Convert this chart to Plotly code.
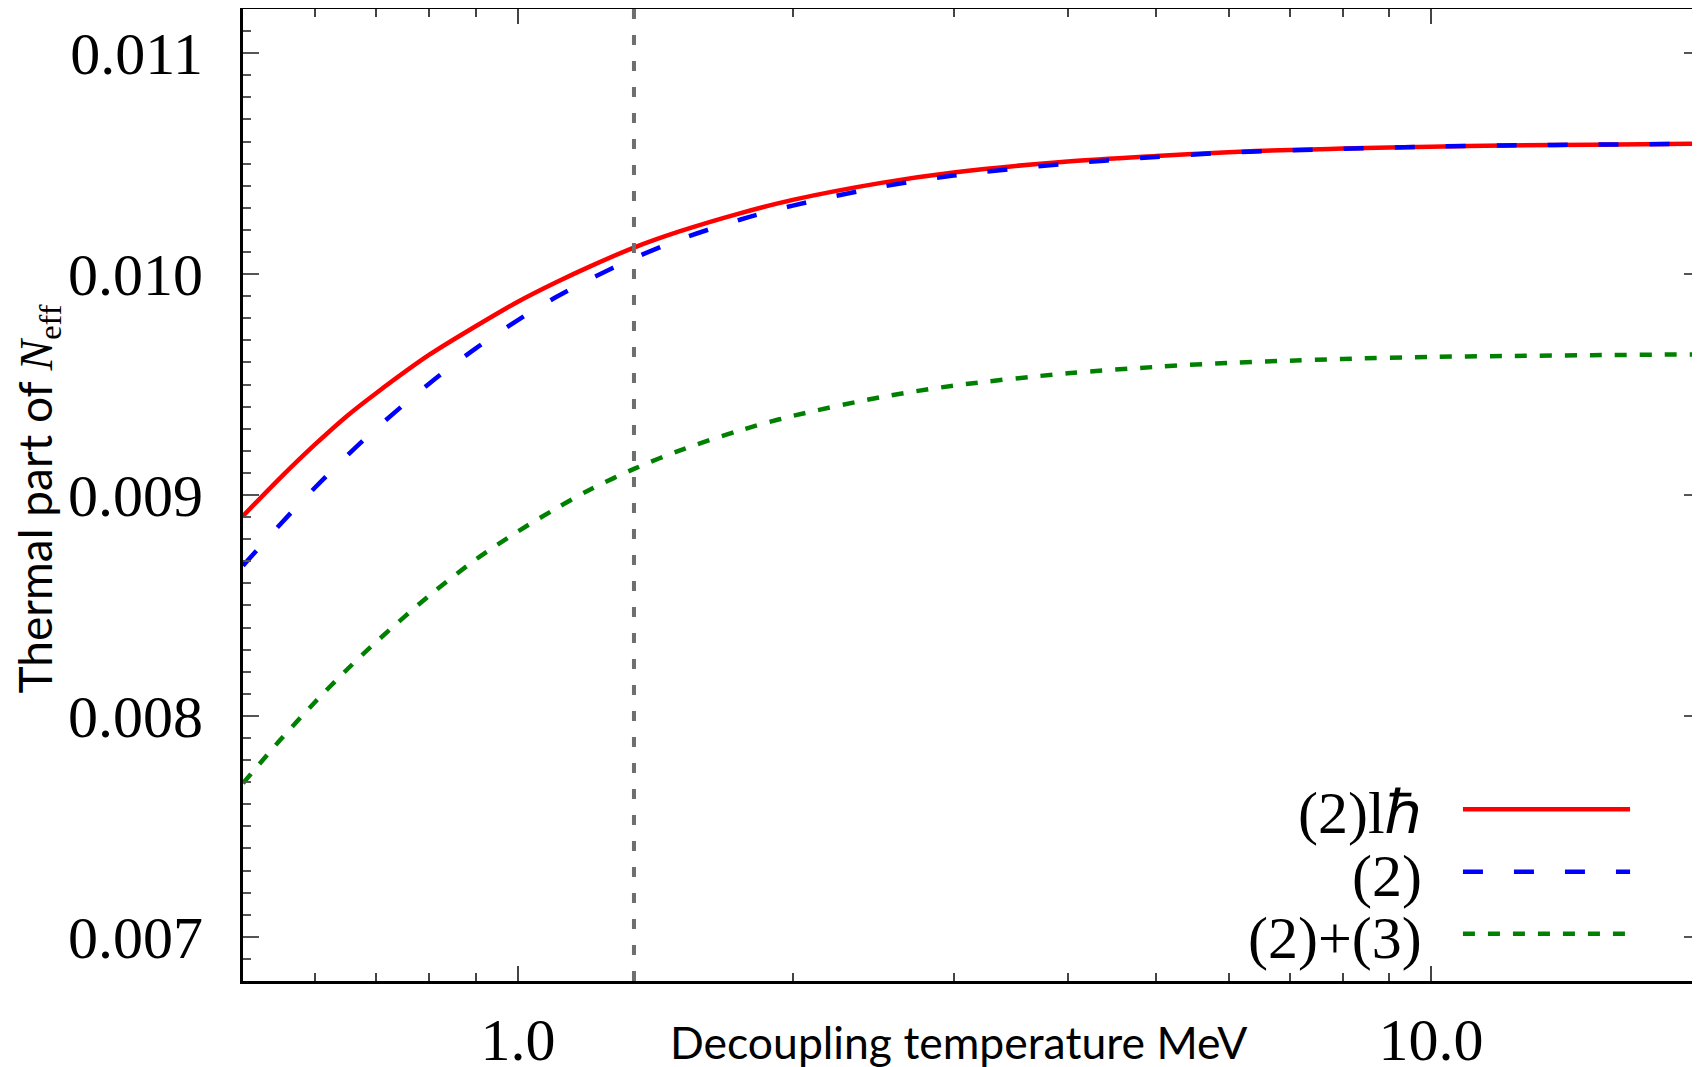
import numpy as np
import plotly.graph_objects as go

# ---- data ----
T_dec = [0.5, 0.55, 0.6, 0.65, 0.7, 0.8, 0.9, 1.0, 1.1, 1.2, 1.34, 1.5, 1.75,
         2.0, 2.5, 3.0, 4.0, 5.0, 6.0, 7.0, 8.0, 10.0, 12.0, 15.0, 20.0]
neff_2lh = [0.008905, 0.009080, 0.009230, 0.009358, 0.009462, 0.009635, 0.009765,
            0.009875, 0.009962, 0.010035, 0.010120, 0.010192, 0.010275, 0.010336,
            0.010413, 0.010460, 0.010510, 0.010535, 0.010552, 0.010562, 0.010568,
            0.010577, 0.010582, 0.010586, 0.010590]
neff_2 = [0.008680, 0.008870, 0.009035, 0.009178, 0.009302, 0.009505, 0.009665,
          0.009792, 0.009895, 0.009978, 0.010072, 0.010155, 0.010246, 0.010310,
          0.010395, 0.010446, 0.010500, 0.010530, 0.010550, 0.010560, 0.010567,
          0.010577, 0.010582, 0.010586, 0.010590]
neff_23 = [0.007695, 0.007894, 0.008064, 0.008210, 0.008336, 0.008545, 0.008709,
           0.008835, 0.008938, 0.009025, 0.009118, 0.009200, 0.009292, 0.009358,
           0.009443, 0.009495, 0.009551, 0.009580, 0.009598, 0.009608, 0.009616,
           0.009625, 0.009629, 0.009633, 0.009637]
T_marker = 1.34
series_names = ["(2)lℏ", "(2)", "(2)+(3)"]
x_tickvals = [1.0, 10.0]
x_ticktext = ["1.0", "10.0"]
x_minor = [0.6, 0.7, 0.8, 0.9, 2, 3, 4, 5, 6, 7, 8, 9, 20]

X_RANGE = [0.5, 19.7]
Y_RANGE = [0.0068, 0.0112]

SERIF = "Liberation Serif, Times New Roman, serif"
SANS = "Lato, Open Sans, sans-serif"

styles = [
    dict(color="#ff0000", width=4.5, dash="solid"),
    dict(color="#0000ff", width=4.5, dash="20px,31px"),
    dict(color="#008000", width=4.5, dash="12px,13px"),
]

fig = go.Figure()
for ys, st, nm in zip([neff_2lh, neff_2, neff_23], styles, series_names):
    fig.add_trace(go.Scatter(x=T_dec, y=ys, mode="lines", name=nm,
                             line=dict(shape="spline", smoothing=0.9, **st),
                             showlegend=False))

# vertical marker line
fig.add_shape(type="line", xref="x", yref="paper", x0=T_marker, x1=T_marker,
              y0=0, y1=1, line=dict(color="#6e6e6e", width=4, dash="10px,16px"))

# legend (text on the left, sample on the right)
leg_y = [0.1768, 0.1123, 0.0486]
for nm, st, yy in zip(series_names, styles, leg_y):
    fig.add_shape(type="line", xref="paper", yref="paper", x0=0.8373, x1=0.952,
                  y0=yy, y1=yy, line=dict(color=st["color"], width=st["width"], dash=st["dash"]))
    fig.add_annotation(xref="paper", yref="paper", x=0.8106, y=yy - 0.004, text=nm,
                       showarrow=False, xanchor="right", yanchor="middle",
                       font=dict(family=SERIF, size=60, color="black"))

# axis titles
fig.add_annotation(xref="paper", yref="paper", x=0.4911, y=-0.0627,
                   text="Decoupling temperature MeV", showarrow=False,
                   xanchor="center", yanchor="middle",
                   font=dict(family=SANS, size=44.5, color="black"))
fig.add_annotation(xref="paper", yref="paper", x=-0.1407, y=0.4954, textangle=-90,
                   text=("Thermal part of <span style=\"font-family:Liberation Serif\">"
                         "<i>N</i><sub>eff</sub></span>"),
                   showarrow=False, xanchor="center", yanchor="middle",
                   font=dict(family=SANS, size=46, color="black"))

fig.update_xaxes(type="log", range=[np.log10(X_RANGE[0]), np.log10(X_RANGE[1])],
                 tickvals=x_tickvals, ticktext=x_ticktext,
                 ticks="inside", ticklen=15, tickwidth=2, tickcolor="#444",
                 minor=dict(tickvals=x_minor, ticks="inside", ticklen=8, tickwidth=2, tickcolor="#444"),
                 showline=True, linecolor="black", linewidth=3, mirror="ticks",
                 showgrid=False, zeroline=False, automargin=False,
                 tickfont=dict(family=SERIF, size=60, color="black"),
                 ticklabelstandoff=4)
fig.update_yaxes(range=Y_RANGE, dtick=0.001, tick0=0.007, tickformat=".3f",
                 ticks="inside", ticklen=16, tickwidth=2, tickcolor="#555",
                 minor=dict(dtick=0.0001, ticks="inside", ticklen=8, tickwidth=2, tickcolor="#555"),
                 showline=True, linecolor="black", linewidth=3, mirror="ticks",
                 showgrid=False, zeroline=False, automargin=False,
                 tickfont=dict(family=SERIF, size=60, color="black"),
                 ticklabelstandoff=25)

# the page places the figure 8 px in from the top-left corner of the window,
# so the margins are set 8 px smaller on the left/top to land on the reference frame
fig.update_layout(width=1700, height=1067, autosize=False,
                  margin=dict(l=235, r=8, t=1, b=94, pad=0, autoexpand=False),
                  paper_bgcolor="white", plot_bgcolor="white",
                  showlegend=False)

fig.write_html("out.html")
